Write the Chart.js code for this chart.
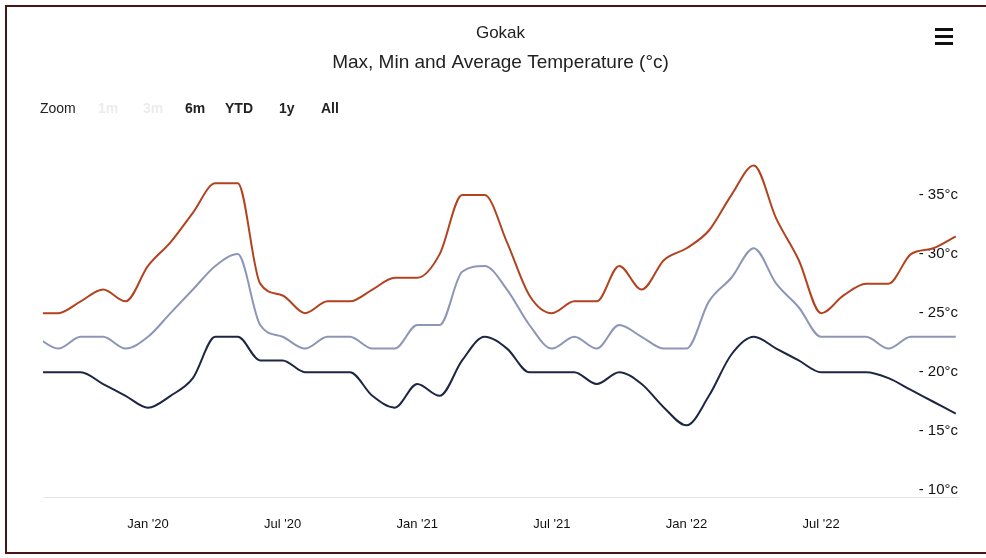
<!DOCTYPE html>
<html>
<head>
<meta charset="utf-8">
<title>Gokak - Max, Min and Average Temperature</title>
<script src="https://cdn.jsdelivr.net/npm/chart.js@4/dist/chart.umd.min.js"></script>
<style>
  body { margin: 0; background: #fff; }
  #wrap { position: relative; width: 986px; height: 558px; overflow: hidden; font-family: "Liberation Sans", Arial, sans-serif; }
  #frame { position: absolute; left: 5px; top: 5px; width: 1000px; height: 545px; border: 2px solid #4a1419; border-right: none; pointer-events: none; }
  .btn { position: absolute; top: 100px; font-size: 14px; line-height: 16px; color: #222; white-space: nowrap; }
  .btn.on { font-weight: bold; }
  .btn.off { color: #ececec; font-weight: bold; }
  .bar { position: absolute; left: 935px; width: 18px; height: 3px; background: #111; }
</style>
</head>
<body>
<div id="wrap">
  <canvas id="chart" width="986" height="558"></canvas>
  <div id="frame"></div>
  <span class="btn" style="left:40px">Zoom</span>
  <span class="btn off" style="left:98px">1m</span>
  <span class="btn off" style="left:143px">3m</span>
  <span class="btn on" style="left:185px">6m</span>
  <span class="btn on" style="left:225px">YTD</span>
  <span class="btn on" style="left:279px">1y</span>
  <span class="btn on" style="left:321px">All</span>
  <div class="bar" style="top:28px"></div>
  <div class="bar" style="top:35px"></div>
  <div class="bar" style="top:42px"></div>
</div>
<script>
// monthly readings, Aug 2019 .. Jan 2023
const months = [
    '2019-08', '2019-09', '2019-10', '2019-11', '2019-12',
    '2020-01', '2020-02', '2020-03', '2020-04', '2020-05', '2020-06',
    '2020-07', '2020-08', '2020-09', '2020-10', '2020-11', '2020-12',
    '2021-01', '2021-02', '2021-03', '2021-04', '2021-05', '2021-06',
    '2021-07', '2021-08', '2021-09', '2021-10', '2021-11', '2021-12',
    '2022-01', '2022-02', '2022-03', '2022-04', '2022-05', '2022-06',
    '2022-07', '2022-08', '2022-09', '2022-10', '2022-11', '2022-12',
    '2023-01'
];
const maxTemp = [
    25, 25, 26, 27, 26,
    29, 31, 33.5, 36, 36, 27.5,
    26.5, 25, 26, 26, 27, 28,
    28, 30, 35, 35, 31, 26.5,
    25, 26, 26, 29, 27, 29.5,
    30.5, 32, 35, 37.5, 33, 29.5,
    25, 26.5, 27.5, 27.5, 30, 30.5,
    31.5
];
const avgTemp = [
    23, 22, 23, 23, 22,
    23, 25, 27, 29, 30, 24,
    23, 22, 23, 23, 22, 22,
    24, 24, 28.5, 29, 27, 24,
    22, 23, 22, 24, 23, 22,
    22, 26, 28, 30.5, 27.5, 25.5,
    23, 23, 23, 22, 23, 23,
    23
];
const minTemp = [
    20, 20, 20, 19, 18,
    17, 18, 19.5, 23, 23, 21,
    21, 20, 20, 20, 18, 17,
    19, 18, 21, 23, 22, 20,
    20, 20, 19, 20, 19, 17,
    15.5, 18, 21.5, 23, 22, 21,
    20, 20, 20, 19.5, 18.5, 17.5,
    16.5
];
const tickMonths = ['2020-01', '2020-07', '2021-01', '2021-07', '2022-01', '2022-07'];
const xTickLabels = ["Jan '20", "Jul '20", "Jan '21", "Jul '21", "Jan '22", "Jul '22"];
const yTicks = [10, 15, 20, 25, 30, 35];

function series(values) {
    return values.map((v, i) => ({ x: i, y: v }));
}

function line(label, values, color) {
    return {
        label: label,
        data: series(values),
        borderColor: color,
        backgroundColor: color,
        borderWidth: 2,
        pointRadius: 0,
        fill: false,
        cubicInterpolationMode: 'monotone'
    };
}

const font = '"Liberation Sans", Arial, sans-serif';

new Chart(document.getElementById('chart'), {
    type: 'line',
    data: {
        datasets: [
            line('Max', maxTemp, '#b3421f'),
            line('Average', avgTemp, '#8d96b6'),
            line('Min', minTemp, '#1d2642')
        ]
    },
    options: {
        responsive: false,
        animation: false,
        layout: { padding: { left: 43, right: 28, top: 0, bottom: 7 } },
        plugins: {
            legend: { display: false },
            tooltip: { enabled: false },
            title: {
                display: true,
                text: 'Gokak',
                color: '#222',
                font: { family: font, size: 17, weight: 'normal' },
                padding: { top: 23, bottom: 8 }
            },
            subtitle: {
                display: true,
                text: 'Max, Min and Average Temperature (°c)',
                color: '#222',
                font: { family: font, size: 19 },
                padding: { top: 0, bottom: 76 }
            }
        },
        scales: {
            x: {
                type: 'linear',
                min: 0.32,
                max: 41.1,
                grid: { display: false, drawTicks: false },
                border: { display: true, color: '#e4e4e4' },
                afterBuildTicks: scale => {
                    scale.ticks = tickMonths.map(m => ({ value: months.indexOf(m) }));
                },
                ticks: {
                    autoSkip: false,
                    maxRotation: 0,
                    padding: 19,
                    color: '#111',
                    font: { family: font, size: 13 },
                    callback: value => xTickLabels[tickMonths.indexOf(months[value])]
                }
            },
            y: {
                position: 'right',
                min: 9.4,
                max: 38.8,
                grid: { display: false, drawTicks: false },
                border: { display: false },
                afterBuildTicks: scale => {
                    scale.ticks = yTicks.map(v => ({ value: v }));
                },
                ticks: {
                    mirror: true,
                    padding: 0,
                    color: '#111',
                    font: { family: font, size: 15 },
                    callback: value => '- ' + value + '°c'
                }
            }
        }
    }
});
</script>
</body>
</html>
